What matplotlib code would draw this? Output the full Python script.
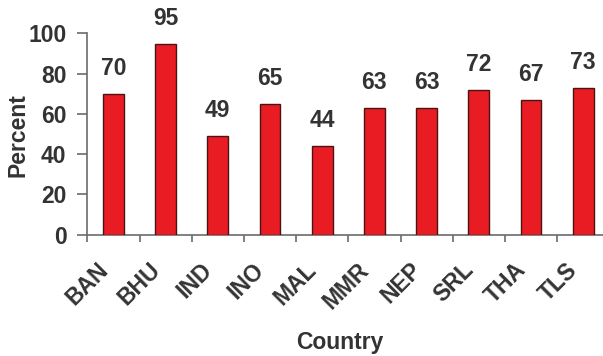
import matplotlib
matplotlib.use("Agg")
import matplotlib.pyplot as plt
import matplotlib.transforms as mtransforms

countries = ["BAN", "BHU", "IND", "INO", "MAL", "MMR", "NEP", "SRL", "THA", "TLS"]
percent = [70, 95, 49, 65, 44, 63, 63, 72, 67, 73]
yticks = [0, 20, 40, 60, 80, 100]

plt.rcParams["font.family"] = ["Liberation Sans", "DejaVu Sans"]
plt.rcParams["font.weight"] = "bold"

W, H, DPI = 603, 356, 100
fig = plt.figure(figsize=(W / DPI, H / DPI), dpi=DPI)
fig.patch.set_facecolor("white")

left, right = 87.3, 609.3
bottom, top = 234.5, 33.5
ax = fig.add_axes([left / W, 1 - bottom / H, (right - left) / W, (bottom - top) / H])

text_col = "#333333"
spine_col = "#6b6b6b"
fs = 16.5

x = list(range(len(countries)))
ax.bar(x, percent, width=0.40, color="#e81c22", edgecolor="#4a1414", linewidth=1.0, zorder=3)

for xi, v in zip(x, percent):
    ax.annotate(f"{v}", (xi, v), xytext=(0, 13.5), textcoords="offset points",
                ha="center", va="baseline", fontsize=fs, fontweight="bold", color=text_col)

ax.set_xlim(-0.5, len(countries) - 0.5)
ax.set_ylim(0, 100)

for s in ["top", "right"]:
    ax.spines[s].set_visible(False)
for s in ["left", "bottom"]:
    ax.spines[s].set_color(spine_col)
    ax.spines[s].set_linewidth(1.2)

ax.set_yticks(yticks)
ax.set_yticklabels([str(t) for t in yticks])
ax.tick_params(axis="y", direction="out", length=7, width=1.2, color=spine_col,
               pad=8, labelsize=fs, labelcolor=text_col)

# Category ticks sit on the boundaries between bars; labels centred on bars
ax.set_xticks([i - 0.5 for i in x])
ax.set_xticklabels([])
ax.set_xticks(x, minor=True)
ax.set_xticklabels(countries, minor=True, rotation=45, ha="right", va="center",
                   rotation_mode="anchor", fontsize=fs, fontweight="bold", color=text_col)
ax.tick_params(axis="x", which="major", direction="out", length=5, width=1.2, color=spine_col)
ax.tick_params(axis="x", which="minor", length=0, pad=23)
shift = mtransforms.ScaledTranslation(-9 / DPI, 0, fig.dpi_scale_trans)
for lbl in ax.get_xticklabels(minor=True):
    lbl.set_transform(lbl.get_transform() + shift)

fig.text(18 / W, 1 - 135 / H, "Percent", rotation=90, ha="center", va="center",
         fontsize=fs, fontweight="bold", color=text_col)
fig.text(340 / W, 1 - 342 / H, "Country", ha="center", va="center",
         fontsize=fs, fontweight="bold", color=text_col)

fig.savefig("out.png", dpi=DPI, facecolor="white")
